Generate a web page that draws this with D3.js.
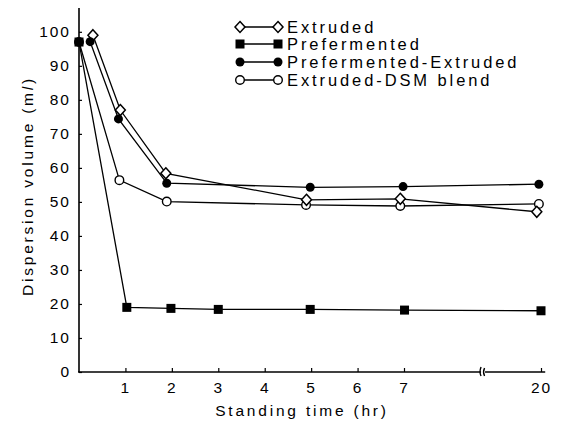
<!DOCTYPE html>
<html>
<head>
<meta charset="utf-8">
<script src="https://cdn.jsdelivr.net/npm/d3@7"></script>
<style>
  body { margin: 0; background: #fff; }
  svg { display: block; }
  text { font-family: "Liberation Sans", Arial, sans-serif; fill: #000; }
  .tick text { font-size: 15.5px; letter-spacing: 2px; }
  .tick line { stroke: #000; stroke-width: 1.2; }
  .label { font-size: 15.5px; letter-spacing: 2.8px; }
  .legend text { font-size: 16.5px; letter-spacing: 2.9px; }
</style>
</head>
<body>
<div id="chart"></div>
<script>
const seriesNames = ["Extruded", "Prefermented", "Prefermented-Extruded", "Extruded-DSM blend"];

// standing time (hr) and dispersion volume (ml)
const extrudedTime = [0.3, 0.89, 1.87, 4.9, 6.92, 19.6];
const extrudedVolume = [99, 77, 58.4, 50.6, 50.9, 47.1];

const prefermentedTime = [0, 1.03, 1.98, 3, 4.98, 7.05, 20];
const prefermentedVolume = [97, 19, 18.7, 18.4, 18.4, 18.2, 18.0];

const prefExtrudedTime = [0.24, 0.85, 1.89, 4.98, 6.98, 19.8];
const prefExtrudedVolume = [97.1, 74.4, 55.5, 54.3, 54.5, 55.2];

const dsmBlendTime = [0, 0.87, 1.89, 4.89, 6.92, 19.8];
const dsmBlendVolume = [97, 56.4, 50.1, 49.1, 48.8, 49.4];

const xTicks = [1, 2, 3, 4, 5, 6, 7, 20];
const yTicks = [0, 10, 20, 30, 40, 50, 60, 70, 80, 90, 100];

const zip = (t, v) => t.map((d, i) => ({ time: d, volume: v[i] }));

const series = [
  { name: seriesNames[3], marker: "openCircle", points: zip(dsmBlendTime, dsmBlendVolume) },
  { name: seriesNames[0], marker: "diamond", points: zip(extrudedTime, extrudedVolume) },
  { name: seriesNames[2], marker: "dot", points: zip(prefExtrudedTime, prefExtrudedVolume) },
  { name: seriesNames[1], marker: "square", points: zip(prefermentedTime, prefermentedVolume) }
];

const width = 564;
const height = 422;

// broken axis: 0-7 hr linear, then a jump to 20 hr
const xScale = d3.scaleLinear().domain([0, 7, 20]).range([79, 404, 541]);
const yScale = d3.scaleLinear().domain([0, 107]).range([372, 8]);

const svg = d3.select("#chart")
  .append("svg")
  .attr("width", width)
  .attr("height", height);

function drawMarker(g, type, x, y) {
  if (type === "square") {
    g.append("rect").attr("x", x - 4.5).attr("y", y - 4.5).attr("width", 9).attr("height", 9)
      .attr("fill", "#000");
  } else if (type === "dot") {
    g.append("circle").attr("cx", x).attr("cy", y).attr("r", 4.5).attr("fill", "#000");
  } else if (type === "openCircle") {
    g.append("circle").attr("cx", x).attr("cy", y).attr("r", 4.3)
      .attr("fill", "#fff").attr("stroke", "#000").attr("stroke-width", 1.4);
  } else {
    g.append("path").attr("d", `M${x},${y - 5.5}L${x + 5},${y}L${x},${y + 5.5}L${x - 5},${y}Z`)
      .attr("fill", "#fff").attr("stroke", "#000").attr("stroke-width", 1.5);
  }
}

// axes
const xAxis = d3.axisBottom(xScale).tickValues(xTicks).tickSizeInner(-4).tickSizeOuter(0).tickPadding(10);
const yAxis = d3.axisLeft(yScale).tickValues(yTicks).tickSizeInner(-3).tickSizeOuter(0).tickPadding(8);

const gx = svg.append("g").attr("transform", `translate(0, ${yScale(0)})`).call(xAxis);
gx.select(".domain").remove();
const gy = svg.append("g").attr("transform", `translate(${xScale(0)}, 0)`).call(yAxis);
gy.select(".domain").remove();

svg.append("line")
  .attr("x1", xScale(0) - 1).attr("x2", xScale(20.4))
  .attr("y1", yScale(0)).attr("y2", yScale(0))
  .attr("stroke", "#000").attr("stroke-width", 1.6);
svg.append("line")
  .attr("x1", xScale(0)).attr("x2", xScale(0))
  .attr("y1", yScale(0)).attr("y2", yScale(107))
  .attr("stroke", "#000").attr("stroke-width", 1.6);

// axis break mark
const bx = xScale(14.5);
const by = yScale(0);
svg.append("rect").attr("x", bx - 2).attr("y", by - 2).attr("width", 4).attr("height", 4).attr("fill", "#fff");
svg.append("path")
  .attr("d", `M${bx - 2},${by - 5}Q${bx - 4},${by} ${bx - 2},${by + 4}M${bx + 1.5},${by - 4}Q${bx - 0.5},${by} ${bx + 1.5},${by + 4}`)
  .attr("fill", "none").attr("stroke", "#000").attr("stroke-width", 1.4);

// lines
const line = d3.line().x(d => xScale(d.time)).y(d => yScale(d.volume));

svg.append("g")
  .selectAll("path")
  .data(series)
  .join("path")
  .attr("d", d => line(d.points))
  .attr("fill", "none")
  .attr("stroke", "#000")
  .attr("stroke-width", 1.3);

const markers = svg.append("g");
series.forEach(s => {
  s.points.forEach(p => drawMarker(markers, s.marker, xScale(p.time), yScale(p.volume)));
});

// axis titles
svg.append("text")
  .attr("class", "label")
  .attr("x", 302)
  .attr("y", 416)
  .attr("text-anchor", "middle")
  .text("Standing time (hr)");

const yTitle = svg.append("text")
  .attr("class", "label")
  .attr("transform", "translate(33, 186) rotate(-90)")
  .attr("text-anchor", "middle");
yTitle.append("tspan").text("Dispersion volume (m");
yTitle.append("tspan").attr("font-style", "italic").text("l");
yTitle.append("tspan").text(")");

// legend
const legendOrder = [
  { name: seriesNames[0], marker: "diamond" },
  { name: seriesNames[1], marker: "square" },
  { name: seriesNames[2], marker: "dot" },
  { name: seriesNames[3], marker: "openCircle" }
];
const legendY = [27, 44, 62, 80];
const legend = svg.append("g").attr("class", "legend");
legendOrder.forEach((d, i) => {
  const y = legendY[i];
  legend.append("line").attr("x1", 240).attr("x2", 278).attr("y1", y).attr("y2", y)
    .attr("stroke", "#000").attr("stroke-width", 1.3);
  drawMarker(legend, d.marker, 240, y);
  drawMarker(legend, d.marker, 278, y);
  legend.append("text").attr("x", 287).attr("y", y).attr("dy", "0.36em").text(d.name);
});
</script>
</body>
</html>
